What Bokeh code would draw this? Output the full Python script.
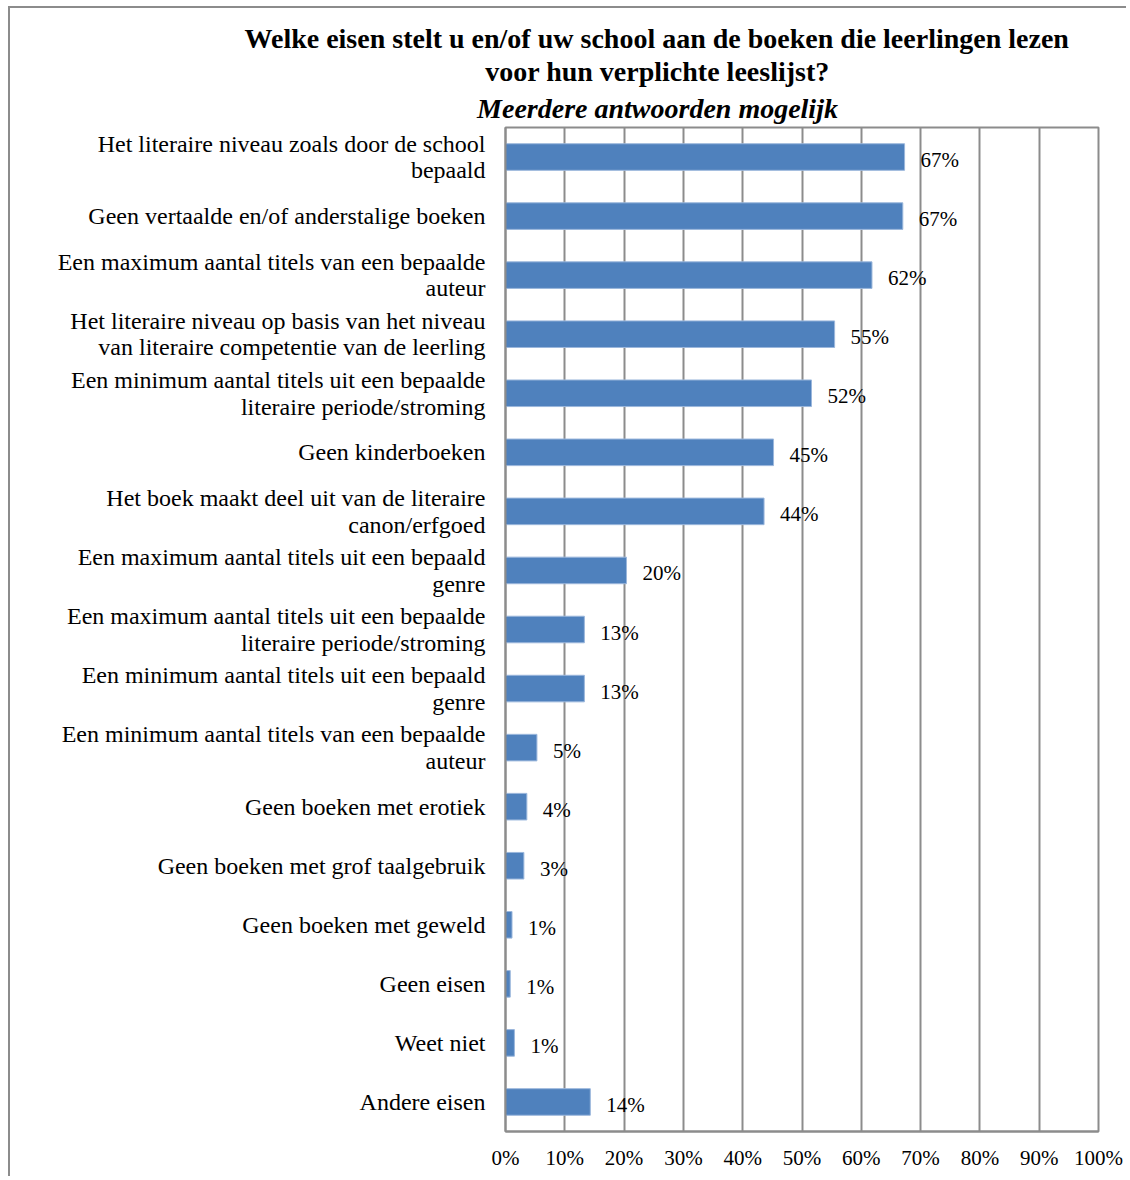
from bokeh.plotting import figure
from bokeh.models import (FactorRange, Range1d, FixedTicker, PrintfTickFormatter, Title,
                          ColumnDataSource)
from bokeh.core.properties import value
from bokeh.embed import file_html
from bokeh.resources import INLINE

categories = [
    "Het literaire niveau zoals door de school\nbepaald",
    "Geen vertaalde en/of anderstalige boeken",
    "Een maximum aantal titels van een bepaalde\nauteur",
    "Het literaire niveau op basis van het niveau\nvan literaire competentie van de leerling",
    "Een minimum aantal titels uit een bepaalde\nliteraire periode/stroming",
    "Geen kinderboeken",
    "Het boek maakt deel uit van de literaire\ncanon/erfgoed",
    "Een maximum aantal titels uit een bepaald\ngenre",
    "Een maximum aantal titels uit een bepaalde\nliteraire periode/stroming",
    "Een minimum aantal titels uit een bepaald\ngenre",
    "Een minimum aantal titels van een bepaalde\nauteur",
    "Geen boeken met erotiek",
    "Geen boeken met grof taalgebruik",
    "Geen boeken met geweld",
    "Geen eisen",
    "Weet niet",
    "Andere eisen",
]
values = [67.3, 67.0, 61.8, 55.5, 51.6, 45.2, 43.6, 20.4, 13.3, 13.3, 5.3, 3.6, 3.1, 1.1, 0.8, 1.5, 14.3]
value_labels = ["67%", "67%", "62%", "55%", "52%", "45%", "44%", "20%", "13%", "13%",
                "5%", "4%", "3%", "1%", "1%", "1%", "14%"]
x_ticks = [0, 10, 20, 30, 40, 50, 60, 70, 80, 90, 100]
title_lines = ["Welke eisen stelt u en/of uw school aan de boeken die leerlingen lezen",
               "voor hun verplichte leeslijst?",
               "Meerdere antwoorden mogelijk"]

FONT = "Liberation Serif"
GRAY = "#8c8c8c"
BLUE = "#4f81bd"
TITLE_FS = 28

# Times bold / bold-italic advance widths (1/1000 em), to centre the title lines on the page
_BOLD = {" ": 250, "/": 278, "?": 500, "W": 1000, "M": 944, "a": 500, "b": 556, "c": 444, "d": 556,
         "e": 444, "f": 333, "g": 500, "h": 556, "i": 278, "j": 333, "k": 556, "l": 278, "m": 833,
         "n": 556, "o": 500, "p": 556, "r": 444, "s": 389, "t": 333, "u": 556, "v": 500, "w": 722,
         "z": 444, "y": 500}
_BOLDIT = {" ": 250, "M": 889, "a": 500, "d": 500, "e": 444, "g": 500, "i": 278, "j": 278, "k": 500,
           "l": 278, "m": 778, "n": 556, "o": 500, "r": 389, "t": 278, "w": 667, "y": 444}


def text_width(s, table, fs):
    return sum(table.get(ch, 500) for ch in s) * fs / 1000.0


# page geometry
ML, MT = 8, 6           # outer frame of the chart
FL, FT, FR, FB = 505, 127, 1098, 1131   # plot area on the page
TITLE_CX = 657
OX, OY = ML + 2, MT + 2  # canvas origin on page (margin + 2px border)
W, H = 1130 - OX - 2, 1180 - OY - 2

src = ColumnDataSource(dict(cat=categories, val=values, lab=value_labels))

p = figure(width=W, height=H, output_backend="svg", toolbar_location=None,
           y_range=FactorRange(factors=list(reversed(categories)), range_padding=0),
           x_range=Range1d(0, 100),
           min_border_left=FL - OX, min_border_top=FT - OY, min_border_right=W - (FR - OX),
           min_border_bottom=H - (FB - OY))
p.styles = {"margin-left": f"{ML}px", "margin-top": f"{MT}px",
            "border-left": "2px solid #8c8c8c", "border-top": "2px solid #8c8c8c"}

p.hbar(y="cat", right="val", left=0, height=0.45, source=src,
       fill_color=BLUE, line_color="#9bb7dc", line_width=1)
p.text(x="val", y="cat", text="lab", source=src, x_offset=16, y_offset=3,
       text_align="left", text_baseline="middle", text_font=value(FONT),
       text_font_size="21px", text_color="black")

p.outline_line_color = GRAY
p.outline_line_width = 2
p.background_fill_color = "white"
p.border_fill_color = "white"

p.xgrid.grid_line_color = GRAY
p.xgrid.grid_line_width = 2
p.ygrid.grid_line_color = None

xa = p.xaxis[0]
xa.ticker = FixedTicker(ticks=x_ticks)
xa.formatter = PrintfTickFormatter(format="%d%%")
xa.axis_line_color = GRAY
xa.axis_line_width = 2
xa.major_tick_line_color = None
xa.minor_tick_line_color = None
xa.major_tick_out = 0
xa.major_tick_in = 0
xa.major_label_standoff = 14
xa.major_label_text_font = FONT
xa.major_label_text_font_size = "21px"
xa.major_label_text_color = "black"

ya = p.yaxis[0]
ya.axis_line_color = GRAY
ya.axis_line_width = 2
ya.major_tick_line_color = None
ya.major_tick_out = 0
ya.major_tick_in = 0
ya.major_label_standoff = 20
ya.major_label_text_font = FONT
ya.major_label_text_font_size = "24px"
ya.major_label_text_color = "black"
ya.major_label_text_line_height = 1.02

# titles: added bottom line first (closest to plot); the lowest one keeps a gap to the plot
tables = [_BOLD, _BOLD, _BOLDIT]
styles = ["bold", "bold", "bold italic"]
standoffs = [0, 0, 8]
for t, tb, st, so in reversed(list(zip(title_lines, tables, styles, standoffs))):
    w = text_width(t, tb, TITLE_FS)
    off = TITLE_CX - w / 2.0 - FL
    p.add_layout(Title(text=t, align="left", offset=off, text_font=FONT,
                       text_font_size=f"{TITLE_FS}px", text_font_style=st,
                       text_color="black", standoff=so, vertical_align="bottom"), "above")

open("out.html", "w").write(file_html(p, INLINE))
